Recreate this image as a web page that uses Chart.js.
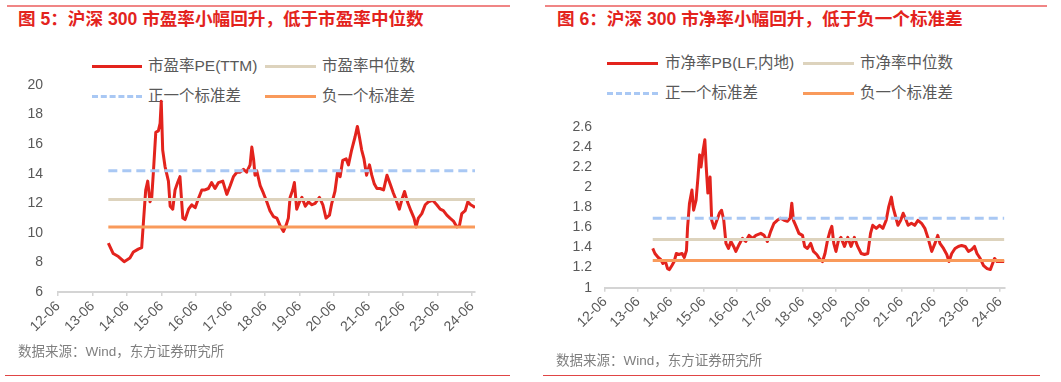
<!DOCTYPE html>
<html><head><meta charset="utf-8">
<script src="https://cdn.jsdelivr.net/npm/chart.js@4.4.1/dist/chart.umd.min.js"></script>
<style>
html,body{margin:0;padding:0;background:#fff;}
body{width:1061px;height:382px;position:relative;overflow:hidden;font-family:"Liberation Sans","Noto Sans CJK SC",sans-serif;}
.abs{position:absolute;white-space:nowrap;}
.title{color:#e3231d;font-weight:bold;font-size:17.6px;line-height:20px;}
.leg{color:#595959;font-size:15.5px;line-height:20px;}
.src{color:#7f7f7f;font-size:13.5px;line-height:18px;}
.rule{position:absolute;height:0;}
canvas{position:absolute;top:0;}
</style></head>
<body>
<div class="rule" style="left:7px;width:503px;top:5px;border-top:2px solid #f08585;"></div>
<div class="rule" style="left:545px;width:502px;top:5px;border-top:2px solid #f08585;"></div>
<div class="abs title" style="left:18px;top:9px;">图 5：沪深 300 市盈率小幅回升，低于市盈率中位数</div>
<div class="abs title" style="left:557px;top:9px;">图 6：沪深 300 市净率小幅回升，低于负一个标准差</div>

<div class="rule" style="left:92px;width:50px;top:65px;border-top:3px solid #e3231d;"></div>
<div class="abs leg" style="left:148px;top:56px;">市盈率PE(TTM)</div>
<div class="rule" style="left:265px;width:51px;top:65px;border-top:3px solid #ddd3bd;"></div>
<div class="abs leg" style="left:322px;top:56px;">市盈率中位数</div>
<div class="rule" style="left:92px;width:50px;top:95px;border-top:3px dashed #a9c8f4;"></div>
<div class="abs leg" style="left:148px;top:86px;">正一个标准差</div>
<div class="rule" style="left:265px;width:51px;top:95px;border-top:3px solid #f99a5b;"></div>
<div class="abs leg" style="left:322px;top:86px;">负一个标准差</div>

<div class="rule" style="left:607px;width:51px;top:62px;border-top:3px solid #e3231d;"></div>
<div class="abs leg" style="left:665px;top:53px;">市净率PB(LF,内地)</div>
<div class="rule" style="left:803px;width:51px;top:62px;border-top:3px solid #ddd3bd;"></div>
<div class="abs leg" style="left:860px;top:53px;">市净率中位数</div>
<div class="rule" style="left:607px;width:51px;top:92px;border-top:3px dashed #a9c8f4;"></div>
<div class="abs leg" style="left:665px;top:83px;">正一个标准差</div>
<div class="rule" style="left:803px;width:51px;top:92px;border-top:3px solid #f99a5b;"></div>
<div class="abs leg" style="left:860px;top:83px;">负一个标准差</div>

<canvas id="pe" width="530" height="382" style="left:0;width:530px;height:382px;"></canvas>
<canvas id="pb" width="531" height="382" style="left:530px;width:531px;height:382px;"></canvas>

<div class="abs src" style="left:18px;top:343px;">数据来源：Wind，东方证券研究所</div>
<div class="abs src" style="left:556px;top:352px;">数据来源：Wind，东方证券研究所</div>
<div class="rule" style="left:5px;width:505px;top:375px;border-top:1.5px solid #e04545;"></div>
<div class="rule" style="left:543px;width:497px;top:375px;border-top:1.5px solid #e04545;"></div>

<script>
// x tick labels (one per year, June), time unit = months since Jun 2012
const xTickLabels = ['12-06','13-06','14-06','15-06','16-06','17-06','18-06','19-06','20-06','21-06','22-06','23-06','24-06'];

// CSI 300 PE (TTM)
const peMonths = [17.5,19.2,21,23,25,26.2,27.9,29.1,29.7,30.5,
31.2,32,32.6,33.2,34,34.9,35.5,35.9,36.4,37.2,
38.4,39,39.9,40.7,41.6,42.4,43.4,44.2,45.4,46.5,
47.7,48.8,50,51.1,52.3,53.4,54.6,55.8,57.3,58.7,
59.9,61,62.2,63.3,64.5,65.6,66.8,67.4,68,68.5,
69.1,70.3,71.4,72.6,73.7,74.9,76.1,77.2,78.4,79.3,
80.1,80.7,81.6,82.2,83,84,84.8,86,87.1,88.3,
89.4,90.9,92.1,93.2,94.4,95.2,96.3,97.2,98.1,99,
100.2,101,102.1,103.3,104.1,104.8,105.6,106.4,107.3,108.3,
109.1,110,110.9,112,113.2,114.4,115.5,116.6,117.6,118.7,
119.5,120.5,121.5,122.7,123.8,124.5,125.3,126.5,127.7,128.8,
130.3,131.7,132.9,134,135.2,136.3,137.5,138.7,139.6,140.4,
141.6,142.5,143.5,144.4,145];
const peValues = [9.3,8.6,8.4,8.05,8.3,8.7,8.9,9.0,10.7,12.9,
13.5,12.1,12.4,14.2,16.8,16.9,17.4,18.9,15.6,14.5,
13.5,11.8,11.6,12.9,13.4,13.8,11.0,10.9,11.6,11.9,
11.7,12.3,12.9,12.9,13.0,13.4,13.0,13.4,13.5,12.6,
13.2,13.8,14.1,14.1,14.3,14.1,14.6,15.8,15.0,13.9,
14.2,13.2,12.7,12.1,11.5,11.1,11.0,10.5,10.1,10.5,
11.0,12.4,12.9,13.4,11.6,12.1,12.4,11.8,12.1,11.9,
12.0,12.4,11.9,11.0,11.2,12.0,12.8,14.1,13.8,14.9,
15.0,14.6,15.6,16.5,17.2,16.5,15.6,15.0,13.9,14.6,
13.9,13.3,13.0,13.0,12.9,13.9,13.3,12.7,12.2,11.6,
12.2,12.8,12.1,11.5,11.0,10.4,11.0,11.3,11.9,12.1,
12.2,11.9,11.6,11.5,11.2,11.0,10.8,10.4,10.5,11.3,
11.5,12.1,11.9,11.8,11.7];
const peMedian = 12.25, pePlusSD = 14.2, peMinusSD = 10.4;

// CSI 300 PB (LF)
const pbMonths = [17.4,18.2,19.4,20.3,21.1,21.9,22.8,23.5,24.4,25.2,
26,26.9,28.1,28.9,29.7,30.1,30.8,31.7,32.3,33.2,
33.9,34.5,35,35.8,36.4,36.9,37.5,38.3,38.9,39.8,
40.8,41.7,42.5,43.3,44.1,45,45.9,46.9,47.7,48.9,
50.1,51.3,52.5,53.8,55,56.8,58,59.2,60.4,61.6,
62.8,64,65.3,66.5,67.5,68.1,68.7,69.5,70.7,72,
72.8,73.8,75,76,77.2,78.4,79.3,80.2,81.1,82,
82.7,83.4,84.2,85.1,86,87.3,88.5,89.7,90.9,92.1,
93.4,94.6,95.8,96.8,97.6,98.9,100.1,101.3,102.5,103.4,
104.4,105,105.8,106.8,107.8,108.7,109.5,110.5,111.7,112.9,
114.1,115.4,116.6,117.8,119.1,120.3,121.3,122.1,123.4,124.6,
125.4,126.4,127.6,128.8,130,131.3,132.5,133.7,134.7,135.6,
136.8,138,139.3,140.5,141.3,142,142.9,144.1,145.6];
const pbValues = [1.39,1.34,1.30,1.28,1.24,1.27,1.19,1.18,1.22,1.26,
1.34,1.33,1.34,1.30,1.37,1.60,1.84,1.97,1.77,1.87,
2.10,2.32,2.20,2.37,2.47,2.20,1.94,2.10,1.67,1.59,
1.67,1.74,1.77,1.67,1.44,1.39,1.46,1.41,1.36,1.43,
1.49,1.46,1.52,1.49,1.52,1.54,1.52,1.46,1.56,1.64,
1.67,1.69,1.67,1.66,1.69,1.84,1.67,1.62,1.54,1.52,
1.41,1.39,1.44,1.36,1.33,1.28,1.26,1.34,1.47,1.56,
1.61,1.44,1.36,1.47,1.50,1.41,1.50,1.41,1.50,1.41,
1.34,1.33,1.34,1.54,1.62,1.59,1.62,1.59,1.67,1.80,
1.90,1.80,1.72,1.62,1.67,1.74,1.69,1.62,1.64,1.62,
1.67,1.64,1.59,1.49,1.36,1.44,1.52,1.44,1.39,1.33,
1.26,1.34,1.39,1.41,1.42,1.41,1.36,1.38,1.41,1.34,
1.29,1.22,1.19,1.18,1.24,1.29,1.26,1.26,1.26];
const pbMedian = 1.48, pbPlusSD = 1.69, pbMinusSD = 1.27;

const FONT = "'Liberation Sans','Noto Sans CJK SC',sans-serif";

function build(id, months, values, med, plus, minus, yMin, yMax, yStep, lay) {
  const pts = months.map((m, i) => ({x: m, y: values[i]}));
  const x0 = months[0], x1 = months[months.length - 1];
  const hl = v => [{x: x0, y: v}, {x: x1, y: v}];
  const common = {pointRadius: 0, fill: false, tension: 0};
  new Chart(document.getElementById(id), {
    type: 'line',
    data: {datasets: [
      Object.assign({data: hl(minus), borderColor: '#f99a5b', borderWidth: 3}, common),
      Object.assign({data: hl(med), borderColor: '#ddd3bd', borderWidth: 3}, common),
      Object.assign({data: hl(plus), borderColor: '#a9c8f4', borderWidth: 3, borderDash: [9, 5]}, common),
      Object.assign({data: pts, borderColor: '#e3231d', borderWidth: 3, borderJoinStyle: 'round'}, common)
    ]},
    options: {
      responsive: false, animation: false, devicePixelRatio: 1,
      layout: {padding: {top: lay.top, right: lay.right, left: 0, bottom: 0}},
      plugins: {legend: {display: false}, tooltip: {enabled: false}},
      scales: {
        x: {
          type: 'linear', min: 0, max: lay.xMax,
          afterBuildTicks: s => { s.ticks = xTickLabels.map((t, i) => ({value: i * 12})); },
          afterFit: s => { s.height = lay.xh; },
          ticks: {autoSkip: false, maxRotation: 45, minRotation: 45, padding: 2,
            color: '#595959', font: {family: FONT, size: 14},
            callback: (v, i) => xTickLabels[i]},
          grid: {display: true, drawOnChartArea: false, drawTicks: true, tickLength: 4, color: '#d4d4d4', lineWidth: 1.5},
          border: {display: true, color: '#d4d4d4', width: 2}
        },
        y: {
          min: yMin, max: yMax,
          afterFit: s => { s.width = lay.yw; },
          afterBuildTicks: s => { const t = []; for (let v = yMin; v <= yMax + 1e-9; v += yStep) t.push({value: Math.round(v * 100) / 100}); s.ticks = t; },
          ticks: {padding: lay.yp, color: '#595959', font: {family: FONT, size: 14},
            callback: v => String(Math.round(v * 100) / 100)},
          grid: {display: false, drawTicks: false},
          border: {display: false}
        }
      }
    }
  });
}

build('pe', peMonths, peValues, peMedian, pePlusSD, peMinusSD, 6, 20, 2,
  {top: 85, right: 55, xh: 90, yw: 58, yp: 15, xMax: 145});
build('pb', pbMonths, pbValues, pbMedian, pbPlusSD, pbMinusSD, 1, 2.6, 0.2,
  {top: 126.7, right: 56.6, xh: 94.3, yw: 75, yp: 13, xMax: 145.6});
</script>
</body></html>
